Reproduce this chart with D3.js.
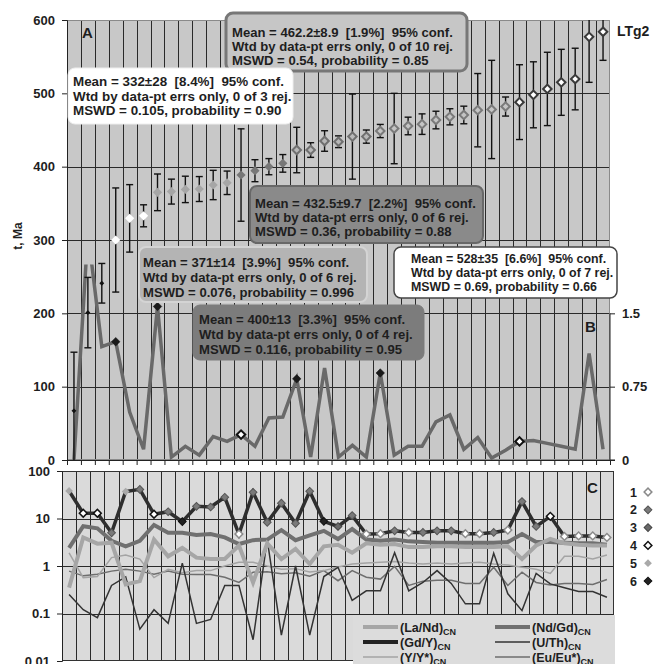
<!DOCTYPE html>
<html><head><meta charset="utf-8">
<script src="https://cdn.jsdelivr.net/npm/d3@7/dist/d3.min.js"></script>
<style>
body{margin:0;background:#fff}
text{font-family:"Liberation Sans",Arial,sans-serif;font-weight:bold;fill:#1e1e1e;white-space:pre}
</style></head><body><div id="container"></div>
<script>
// panel A: ages (Ma) and 2-sigma errors, sorted
const ages   = [67,201,241,300,329.5,333,365,366,369,369.5,375,378,388.6,394.5,400,404.5,422.7,422.7,435,434,441,441,448.6,452,455.5,458,463.6,468,470.5,477,478,482,488,498,506,515,519.5,577,584];
const ageErr = [80,48,27,71,46,15,25,17,18,17,20,16,63,15,11,12,31,10,14,8,58,9,9,48,12,14,12,11,12,50,67,13,51,45,50,45,42,62,39];
const ageGroup = [0,0,0,1,1,1,2,2,2,2,2,2,3,3,3,3,4,4,4,4,4,4,5,5,5,5,5,5,5,5,5,5,6,6,6,6,6,6,6];
// panel B: right axis series
const bVals = [0,2.33,1.16,1.21,0.49,0.11,1.57,0.03,0.14,0.05,0.24,0.19,0.26,0.14,0.43,0.44,0.83,0.03,0.94,0.03,0.15,0.03,0.89,0.05,0.14,0.14,0.39,0.46,0.11,0.23,0.02,0.10,0.19,0.20,0.17,0.14,0.11,1.09,0.11];
const bMark = [0,0,0,1,0,0,1,0,0,0,0,0,2,0,0,0,1,0,0,0,0,0,1,0,0,0,0,0,0,0,0,0,2,0,0,0,0,0,0];
// panel C: chondrite-normalised ratios
const laNd = [0.35,4.0,2.95,3.1,0.41,0.48,3.6,1.6,2.4,1.5,1.4,1.4,2.7,0.45,3.0,1.4,2.3,1.1,2.6,2.8,1.9,3.0,2.8,2.9,2.5,2.5,2.6,2.6,2.5,2.5,2.5,2.6,1.4,2.7,3.7,3.0,2.8,2.7,2.7];
const ndGd = [2.4,6.9,6.2,3.4,2.6,3.4,7.3,5.0,5.0,4.5,4.7,4.0,2.9,3.5,3.6,5.7,3.5,4.4,5.5,3.7,6.0,3.6,3.4,3.6,3.3,3.2,3.1,3.1,3.1,3.1,3.1,3.2,4.7,3.2,3.2,3.1,3.0,3.0,2.8];
const gdY  = [38,12.9,12.9,5.0,37,41,12.3,13.9,8.6,18,17.5,28,4.7,35.6,8.3,21,7.9,37.5,8.7,6.8,11.5,4.7,4.8,5.5,5.1,5.1,5.5,5.5,4.8,4.8,5.1,5.7,22.7,6.8,11.1,4.2,4.3,4.3,4.0];
const uTh  = [0.25,0.12,0.082,0.39,0.59,0.047,0.12,0.062,1.15,0.062,0.075,0.39,0.39,0.028,3.6,0.035,1.0,0.035,0.6,0.94,0.19,0.30,0.30,1.9,0.30,0.45,0.8,0.43,0.16,0.16,1.85,0.26,0.115,0.7,0.42,0.35,0.29,0.29,0.22];
const yY   = [1.9,0.57,0.6,1.5,1.7,1.4,0.57,0.85,0.72,0.8,0.8,1.0,1.2,1.2,1.0,0.85,0.88,0.75,0.8,0.95,1.1,1.15,1.2,1.25,1.15,1.1,1.15,1.1,1.15,1.2,1.1,1.05,0.94,0.85,0.7,1.6,1.6,1.4,1.7];
const euEu = [0.78,0.62,0.67,0.78,0.85,0.78,0.67,0.78,0.67,0.66,0.66,0.58,0.45,0.74,0.76,0.69,0.72,0.61,0.8,0.49,0.8,0.58,0.53,0.98,0.39,0.48,0.5,0.5,0.43,0.43,0.94,0.39,0.74,0.45,0.4,0.43,0.43,0.41,0.52];
const cMark = [5,4,4,2,5,2,4,2,6,2,2,2,1,2,2,2,2,2,6,3,2,1,1,2,1,2,2,2,1,1,2,1,2,2,4,1,1,1,1];

const ageTicks = [0,100,200,300,400,500,600];
const bTicks = [0,0.75,1.5];
const cTicks = [0.01,0.1,1,10,100];

const boxText = [
  ["Mean = 462.2±8.9  [1.9%]  95% conf.","Wtd by data-pt errs only, 0 of 10 rej.","MSWD = 0.54, probability = 0.85"],
  ["Mean = 332±28  [8.4%]  95% conf.","Wtd by data-pt errs only, 0 of 3 rej.","MSWD = 0.105, probability = 0.90"],
  ["Mean = 432.5±9.7  [2.2%]  95% conf.","Wtd by data-pt errs only, 0 of 6 rej.","MSWD = 0.36, probability = 0.88"],
  ["Mean = 371±14  [3.9%]  95% conf.","Wtd by data-pt errs only, 0 of 6 rej.","MSWD = 0.076, probability = 0.996"],
  ["Mean = 400±13  [3.3%]  95% conf.","Wtd by data-pt errs only, 0 of 4 rej.","MSWD = 0.116, probability = 0.95"],
  ["Mean = 528±35  [6.6%]  95% conf.","Wtd by data-pt errs only, 0 of 7 rej.","MSWD = 0.69, probability = 0.66"]
];
const legendLabels = [["(La/Nd)","CN"],["(Nd/Gd)","CN"],["(Gd/Y)","CN"],["(U/Th)","CN"],["(Y/Y*)","CN"],["(Eu/Eu*)","CN"]];
const markerLabels = ["1","2","3","4","5","6"];

// ---- layout / styles ----
const boxStyle = [
  {x:226,y:13,w:241,h:58,fill:'#c6c6c6',stroke:'#777',sw:3,tx:232,ty:37,lh:14.2,fs:13.1},
  {x:68,y:68,w:225,h:56,fill:'#fff',stroke:'#eee',sw:1,tx:73,ty:86,lh:14.5,fs:13.4},
  {x:250,y:186,w:233,h:57,fill:'#8a8a8a',stroke:'#686868',sw:2,tx:255,ty:208,lh:14,fs:13.1},
  {x:139,y:247,w:228,h:55,fill:'#b4b4b4',stroke:'#d4d4d4',sw:2,tx:143,ty:266.5,lh:15,fs:13.1},
  {x:193,y:305,w:231,h:55,fill:'#7c7c7c',stroke:'#7c7c7c',sw:1,tx:199,ty:324,lh:15,fs:13.1},
  {x:394,y:247,w:223,h:51,fill:'#fff',stroke:'#444',sw:1.5,tx:411,ty:263,lh:14,fs:12.4}
];
const groupStyle = [
  {fill:'#111',stroke:'none',sw:0,size:12},
  {fill:'#fff',stroke:'none',sw:0,size:42},
  {fill:'#a6a6a6',stroke:'none',sw:0,size:42},
  {fill:'#777',stroke:'none',sw:0,size:42},
  {fill:'#b8b8b8',stroke:'#707070',sw:2,size:36},
  {fill:'#c4c4c4',stroke:'#7a7a7a',sw:2,size:36},
  {fill:'#fff',stroke:'#3a3a3a',sw:2,size:36}
];
const cMarkStyle = {
  1:{fill:'#fff',stroke:'#8a8a8a',sw:1.5},
  2:{fill:'#7a7a7a',stroke:'#555',sw:1},
  3:{fill:'#6a6a6a',stroke:'#444',sw:1},
  4:{fill:'#fff',stroke:'#111',sw:1.5},
  5:{fill:'#a9a9a9',stroke:'none',sw:0},
  6:{fill:'#222',stroke:'#111',sw:1}
};
const cSeries = [
  {v:euEu,color:'#6e6e6e',w:1.5},
  {v:yY,color:'#a4a4a4',w:1.5},
  {v:uTh,color:'#333',w:1.5},
  {v:ndGd,color:'#707070',w:4},
  {v:laNd,color:'#a6a6a6',w:4},
  {v:gdY,color:'#2e2e2e',w:3.5}
];
const legendStyle = [
  {color:'#a6a6a6',w:4},{color:'#707070',w:4},
  {color:'#222',w:4},{color:'#333',w:1.5},
  {color:'#a4a4a4',w:1.5},{color:'#6e6e6e',w:1.5}
];

const W=659,H=664;
const svg = d3.select('#container').append('svg').attr('width',W).attr('height',H);
const diamond = s => d3.symbol(d3.symbolSquare, s)();

// ===== top panel (A + B) =====
const n = ages.length;
const xA = d3.scaleBand().domain(d3.range(n)).range([67,610]);
const xEdgeA = d3.scaleLinear().domain([0,n]).range([67,610]);
const yA = d3.scaleLinear().domain([0,600]).range([460,20]);
const yB = d3.scaleLinear().domain([0,4.5]).range([460,20]);
const cx = i => xA(i)+xA.bandwidth()/2;

svg.append('rect').attr('x',67).attr('y',20).attr('width',543).attr('height',440).attr('fill','#c8c8c8');
svg.append('defs').append('clipPath').attr('id','clipA')
  .append('rect').attr('x',67).attr('y',yA(600)).attr('width',543).attr('height',yA(0)-yA(600));
svg.select('defs').append('clipPath').attr('id','clipB')
  .append('rect').attr('x',67).attr('y',yB(2)).attr('width',543).attr('height',yB(0)-yB(2));

const gridA = svg.append('g').attr('stroke','#2a2a2a').attr('stroke-width',1);
gridA.selectAll('line.v').data(d3.range(1,n)).join('line').attr('class','v')
  .attr('x1',d=>Math.round(xEdgeA(d))+0.5).attr('x2',d=>Math.round(xEdgeA(d))+0.5)
  .attr('y1',yA(600)).attr('y2',yA(0));
gridA.selectAll('line.h').data(ageTicks.slice(1,-1)).join('line').attr('class','h')
  .attr('x1',67).attr('x2',610).attr('y1',d=>Math.round(yA(d))+0.5).attr('y2',d=>Math.round(yA(d))+0.5);
svg.append('rect').attr('x',67.5).attr('y',20.5).attr('width',542).attr('height',439)
  .attr('fill','none').attr('stroke','#8a8a8a');

// B line
const gB = svg.append('g').attr('clip-path','url(#clipB)');
gB.append('path').datum(bVals)
  .attr('d',d3.line().x((d,i)=>cx(i)).y(d=>yB(d)))
  .attr('fill','none').attr('stroke','#696969').attr('stroke-width',3.5).attr('stroke-linejoin','miter');
svg.append('g').selectAll('path').data(bVals.map((v,i)=>({v,i,m:bMark[i]})).filter(d=>d.m>0)).join('path')
  .attr('d',diamond(36))
  .attr('transform',d=>`translate(${cx(d.i)},${yB(d.v)}) rotate(45)`)
  .attr('fill',d=>d.m===1?'#1a1a1a':'#fff').attr('stroke','#111').attr('stroke-width',d=>d.m===1?0.5:2);

// error bars
const gE = svg.append('g').attr('clip-path','url(#clipA)').attr('stroke','#111').attr('stroke-width',1.4);
ages.forEach((a,i)=>{
  const x = cx(i), lo = a-ageErr[i], hi = a+ageErr[i];
  gE.append('line').attr('x1',x).attr('x2',x).attr('y1',yA(lo)).attr('y2',yA(hi));
  gE.append('line').attr('x1',x-3.5).attr('x2',x+3.5).attr('y1',yA(lo)).attr('y2',yA(lo));
  gE.append('line').attr('x1',x-3.5).attr('x2',x+3.5).attr('y1',yA(hi)).attr('y2',yA(hi));
});
svg.append('g').selectAll('path').data(ages).join('path')
  .attr('d',(d,i)=>diamond(groupStyle[ageGroup[i]].size))
  .attr('transform',(d,i)=>`translate(${cx(i)},${yA(d)}) rotate(45)`)
  .attr('fill',(d,i)=>groupStyle[ageGroup[i]].fill)
  .attr('stroke',(d,i)=>groupStyle[ageGroup[i]].stroke)
  .attr('stroke-width',(d,i)=>groupStyle[ageGroup[i]].sw);

// axes
const axL = svg.append('g').attr('transform','translate(67,0)')
  .call(d3.axisLeft(yA).tickValues(ageTicks).tickSize(5).tickPadding(7));
const axR = svg.append('g').attr('transform','translate(610,0)')
  .call(d3.axisRight(yB).tickValues(bTicks).tickSize(5).tickPadding(7).tickFormat(d=>String(d)));
axR.select('.domain').attr('d',`M5,${yB(0)}H0V${yB(1.5)}`);
const axB = svg.append('g').attr('transform','translate(0,460)')
  .call(d3.axisBottom(xEdgeA).tickValues(d3.range(n+1)).tickSize(5).tickFormat(''));
[axL,axR,axB].forEach(g=>{
  g.selectAll('line').attr('stroke','#222');
  g.select('.domain').attr('stroke','#222');
  g.selectAll('text').attr('font-size',13).attr('font-family','"Liberation Sans",Arial,sans-serif').attr('font-weight','bold').attr('fill','#1e1e1e');
});

// stats boxes
boxText.forEach((lines,k)=>{
  const b = boxStyle[k];
  const g = svg.append('g');
  g.append('rect').attr('x',b.x).attr('y',b.y).attr('width',b.w).attr('height',b.h).attr('rx',7)
    .attr('fill',b.fill).attr('stroke',b.stroke).attr('stroke-width',b.sw);
  g.selectAll('text').data(lines).join('text')
    .attr('x',b.tx)
    .attr('y',(d,j)=>b.ty+j*b.lh).attr('font-size',b.fs).text(d=>d);
});

svg.append('text').attr('x',82).attr('y',38).attr('font-size',15).text('A');
svg.append('text').attr('x',585).attr('y',332).attr('font-size',15).text('B');
svg.append('text').attr('x',617).attr('y',36).attr('font-size',14).text('LTg2');
svg.append('text').attr('transform','translate(22,236) rotate(-90)').attr('text-anchor','middle')
  .attr('font-size',12).text('t, Ma');

// ===== bottom panel C =====
const xC = d3.scaleBand().domain(d3.range(n)).range([62,614]);
const xEdgeC = d3.scaleLinear().domain([0,n]).range([62,614]);
const yC = d3.scaleLog().domain([0.01,100]).range([661,471]);
const cxC = i => xC(i)+xC.bandwidth()/2;

svg.append('rect').attr('x',62).attr('y',471).attr('width',552).attr('height',190).attr('fill','#dadada');
const gridC = svg.append('g').attr('stroke','#2a2a2a').attr('stroke-width',1);
gridC.selectAll('line.v').data(d3.range(1,n)).join('line').attr('class','v')
  .attr('x1',d=>Math.round(xEdgeC(d))+0.5).attr('x2',d=>Math.round(xEdgeC(d))+0.5)
  .attr('y1',yC(100)).attr('y2',yC(0.01));
gridC.selectAll('line.h').data(cTicks.slice(1,-1)).join('line').attr('class','h')
  .attr('x1',62).attr('x2',614).attr('y1',d=>Math.round(yC(d))+0.5).attr('y2',d=>Math.round(yC(d))+0.5);
svg.append('rect').attr('x',62.5).attr('y',471.5).attr('width',551).attr('height',189)
  .attr('fill','none').attr('stroke','#333');

const lineC = d3.line().x((d,i)=>cxC(i)).y(d=>yC(d));
svg.append('g').selectAll('path').data(cSeries).join('path')
  .attr('d',d=>lineC(d.v)).attr('fill','none')
  .attr('stroke',d=>d.color).attr('stroke-width',d=>d.w).attr('stroke-linejoin','miter');
svg.append('g').selectAll('path').data(gdY).join('path')
  .attr('d',diamond(30))
  .attr('transform',(d,i)=>`translate(${cxC(i)},${yC(d)}) rotate(45)`)
  .attr('fill',(d,i)=>cMarkStyle[cMark[i]].fill)
  .attr('stroke',(d,i)=>cMarkStyle[cMark[i]].stroke)
  .attr('stroke-width',(d,i)=>cMarkStyle[cMark[i]].sw);

const axC = svg.append('g').attr('transform','translate(62,0)')
  .call(d3.axisLeft(yC).tickValues(cTicks).tickSize(5).tickPadding(7).tickFormat(d3.format('~g')));
axC.selectAll('line').attr('stroke','#222');
axC.select('.domain').attr('stroke','#222');
axC.selectAll('text').attr('font-size',13).attr('font-family','"Liberation Sans",Arial,sans-serif').attr('font-weight','bold').attr('fill','#1e1e1e');

svg.append('text').attr('x',587).attr('y',493).attr('font-size',15).text('C');

// series legend
const gL = svg.append('g');
gL.append('rect').attr('x',353).attr('y',615).attr('width',262).attr('height',60).attr('fill','#dcdcdc');
legendLabels.forEach((lab,k)=>{
  const col = k%2, row = Math.floor(k/2);
  const x0 = col===0?363:495, y0 = 627+row*15;
  gL.append('line').attr('x1',x0).attr('x2',x0+35).attr('y1',y0).attr('y2',y0)
    .attr('stroke',legendStyle[k].color).attr('stroke-width',legendStyle[k].w);
  const t = gL.append('text').attr('x',x0+37).attr('y',y0+5).attr('font-size',12.5);
  t.append('tspan').text(lab[0]);
  t.append('tspan').attr('dy',3).attr('font-size',9).text(lab[1]);
});

// marker legend
const gM = svg.append('g');
markerLabels.forEach((lab,k)=>{
  const y0 = 492+k*17.8;
  gM.append('text').attr('x',637).attr('y',y0+4.5).attr('text-anchor','end').attr('font-size',12.5).text(lab);
  const st = cMarkStyle[k+1];
  gM.append('path').attr('d',diamond(30)).attr('transform',`translate(648,${y0}) rotate(45)`)
    .attr('fill',st.fill).attr('stroke',st.stroke).attr('stroke-width',st.sw);
});
</script></body></html>
